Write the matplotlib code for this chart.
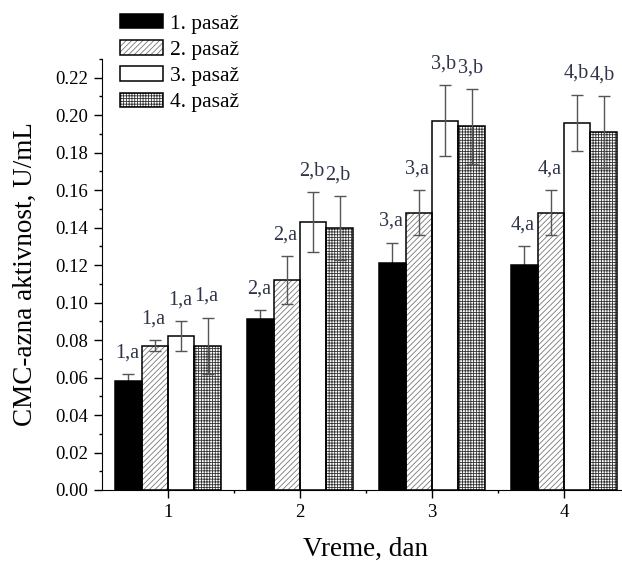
import matplotlib
matplotlib.use("Agg")
import matplotlib.pyplot as plt
from matplotlib.ticker import MultipleLocator, FixedLocator
import numpy as np

plt.rcParams['font.family'] = ['Liberation Serif', 'DejaVu Serif']
plt.rcParams['hatch.linewidth'] = 0.6

days = [1, 2, 3, 4]
series = ["1. pasaž", "2. pasaž", "3. pasaž", "4. pasaž"]
values = [
    [0.058, 0.091, 0.121, 0.120],
    [0.077, 0.112, 0.148, 0.148],
    [0.082, 0.143, 0.197, 0.196],
    [0.077, 0.140, 0.194, 0.191],
]
errors = [
    [0.004, 0.005, 0.011, 0.010],
    [0.003, 0.013, 0.012, 0.012],
    [0.008, 0.016, 0.019, 0.015],
    [0.015, 0.017, 0.020, 0.019],
]
letters = [
    ["1,a", "2,a", "3,a", "4,a"],
    ["1,a", "2,a", "3,a", "4,a"],
    ["1,a", "2,b", "3,b", "4,b"],
    ["1,a", "2,b", "3,b", "4,b"],
]
yticks = [0.00, 0.02, 0.04, 0.06, 0.08, 0.10, 0.12, 0.14, 0.16, 0.18, 0.20, 0.22]

# fill, hatch, hatch colour per series
styles = [
    ('black', '', 'black'),
    ('white', '//////', '#777777'),
    ('white', '', 'black'),
    ('white', '++++++', '#333333'),
]

fig = plt.figure(figsize=(6.22, 5.61), dpi=100)
# the original picture is cut off on the right, so the axes run past the edge
ax = fig.add_axes([102 / 622, 1 - 490 / 561, 528 / 622, (490 - 59) / 561])

width = 0.2
x = np.array(days, dtype=float)
handles = []
for i, name in enumerate(series):
    pos = x + (i - 1.5) * width
    fc, hatch, hc = styles[i]
    back = ax.bar(pos, values[i], width, color=fc, hatch=hatch, edgecolor=hc,
                  linewidth=0, zorder=2)
    front = ax.bar(pos, values[i], width, fill=False, edgecolor='black',
                   linewidth=1.1, zorder=2.5)
    ax.errorbar(pos, values[i], yerr=errors[i], fmt='none', ecolor='#555555',
                elinewidth=1, capsize=4, capthick=1, zorder=1.5 if i == 0 else 3)
    for p, v, e, t in zip(pos, values[i], errors[i], letters[i]):
        ax.annotate(t, (p, v + e), xytext=(-1, 12), textcoords='offset points',
                    ha='center', va='baseline', fontsize=14.5, color='#2e3548')
    handles.append((back[0], front[0]))

ax.set_xlim(0.5, 4.5)
ax.set_ylim(0, 0.23)
ax.set_xticks(days)
ax.xaxis.set_minor_locator(FixedLocator([1.5, 2.5, 3.5]))
ax.set_yticks(yticks)
ax.set_yticklabels([f"{t:.2f}" for t in yticks])
ax.yaxis.set_minor_locator(MultipleLocator(0.01))
ax.tick_params(which='major', direction='out', length=5.5, width=1, pad=4.3,
               labelsize=13.5)
ax.tick_params(which='minor', direction='out', length=2.5, width=1)
ax.spines['top'].set_visible(False)
ax.spines['right'].set_visible(False)

ax.set_xlabel("Vreme, dan", fontsize=19.5, labelpad=12)
ax.set_ylabel("CMC-azna aktivnost, U/mL", fontsize=19.5, labelpad=12.5)

leg = fig.legend(handles, series, loc='upper left',
                 bbox_to_anchor=(120 / 622, 1 - 14 / 561), frameon=False,
                 fontsize=15.5, handlelength=2.0, handleheight=0.65,
                 handletextpad=0.3, labelspacing=0.3, borderpad=0,
                 borderaxespad=0)

fig.savefig("out.png", dpi=100)
